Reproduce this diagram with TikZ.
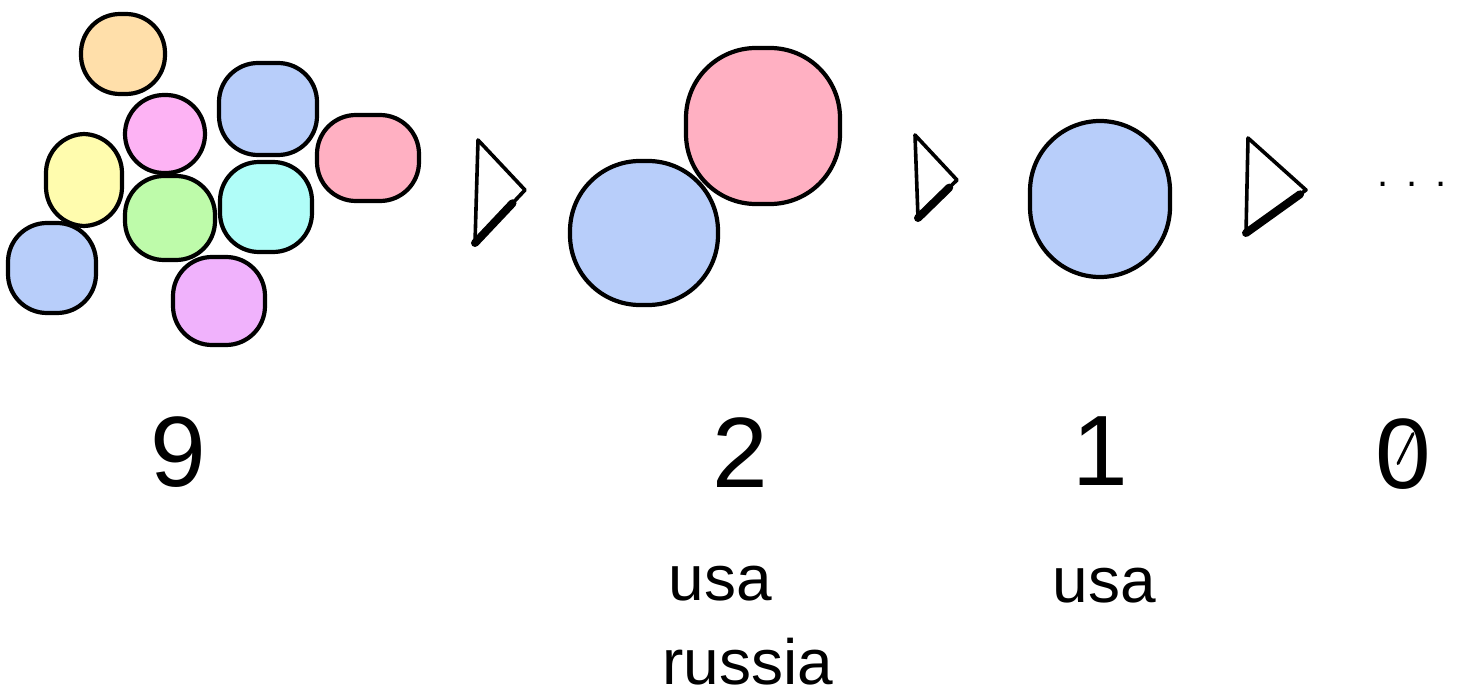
\documentclass[tikz,border=0pt]{standalone}
\usepackage{fontspec}
\usetikzlibrary{calc}
\setmainfont{Liberation Sans}
\definecolor{orangeF}{HTML}{FFDFAA}
\definecolor{pinkF}{HTML}{FDB3F4}
\definecolor{blueF}{HTML}{B8CEFA}
\definecolor{redF}{HTML}{FFB0C2}
\definecolor{yellowF}{HTML}{FFFCAE}
\definecolor{greenF}{HTML}{BEFBAA}
\definecolor{cyanF}{HTML}{B0FDF8}
\definecolor{violetF}{HTML}{F0B2FC}
\tikzset{
  blob/.style={draw=black, line width=4.2pt, rectangle, rounded corners=39pt, inner sep=0pt},
  bigblob/.style={draw=black, line width=4.2pt, rectangle, rounded corners=70pt, inner sep=0pt},
  tri/.style={draw=black, line width=3.6pt, line join=round, line cap=round},
  triedge/.style={draw=black, line width=8pt, line cap=round},
  digit/.style={font=\fontsize{100}{100}\selectfont, anchor=base, inner sep=0pt},
  word/.style={font=\fontsize{64}{64}\selectfont, anchor=base, inner sep=0pt},
}
\begin{document}
\begin{tikzpicture}[x=1pt, y=-1pt]
\useasboundingbox[fill=white] (0,0) rectangle (1461,698);
% group of nine
\node[blob, fill=orangeF, minimum width=84pt, minimum height=80pt] (o) at (123,54) {};
\node[blob, fill=pinkF, minimum width=80pt, minimum height=78pt] (p) at (165,134) {};
\node[blob, fill=blueF, minimum width=98pt, minimum height=92pt] (b1) at (268,109) {};
\node[blob, fill=redF, minimum width=102pt, minimum height=86pt] (r1) at (368,158) {};
\node[blob, fill=yellowF, minimum width=76pt, minimum height=92pt] (y) at (84,180) {};
\node[blob, fill=greenF, minimum width=90pt, minimum height=84pt] (g) at (170,218) {};
\node[blob, fill=cyanF, minimum width=92pt, minimum height=90pt] (c) at (266,207) {};
\node[blob, fill=blueF, minimum width=88pt, minimum height=90pt] (b2) at (52,268) {};
\node[blob, fill=violetF, minimum width=92pt, minimum height=88pt] (v) at (219,301) {};
% two
\node[bigblob, fill=redF, minimum width=154pt, minimum height=156pt] (r2) at (763,126) {};
\node[bigblob, fill=blueF, minimum width=148pt, minimum height=144pt] (b3) at (644,233) {};
% one
\node[bigblob, fill=blueF, minimum width=140pt, minimum height=156pt] (b4) at (1100,199) {};
% triangles
\coordinate (t1a) at (478,140); \coordinate (t1b) at (525,190); \coordinate (t1c) at (475,243);
\coordinate (t2a) at (915,135); \coordinate (t2b) at (957,180); \coordinate (t2c) at (918,218);
\coordinate (t3a) at (1248,138); \coordinate (t3b) at (1306,190); \coordinate (t3c) at (1246,233);
\draw[tri] (t1a) -- (t1b) -- (t1c) -- cycle;
\draw[triedge] ($(t1b)!0.25!(t1c)$) -- (t1c);
\draw[tri] (t2a) -- (t2b) -- (t2c) -- cycle;
\draw[triedge] ($(t2b)!0.2!(t2c)$) -- (t2c);
\draw[tri] (t3a) -- (t3b) -- (t3c) -- cycle;
\draw[triedge] ($(t3b)!0.1!(t3c)$) -- (t3c);
\node[font=\fontsize{40}{40}\selectfont, anchor=base, inner sep=0pt] (dots) at (1412,186) {.\hspace{18pt}.\hspace{18pt}.};
% labels
\node[digit] (n9) at (178,486) {9};
\node[digit] (n2) at (740,487) {2};
\node[digit] (n1) at (1100,485) {1};
\node[digit] (n0) at (1403,488) {0};
\draw[line width=3pt, line cap=round] ($(n0.center)+(-5pt,-10pt)$) -- ($(n0.center)+(10pt,20pt)$);
\node[word] (w1) at (720,600) {usa};
\node[word] (w2) at (748,684) {russia};
\node[word] (w3) at (1104,602) {usa};
\end{tikzpicture}
\end{document}
